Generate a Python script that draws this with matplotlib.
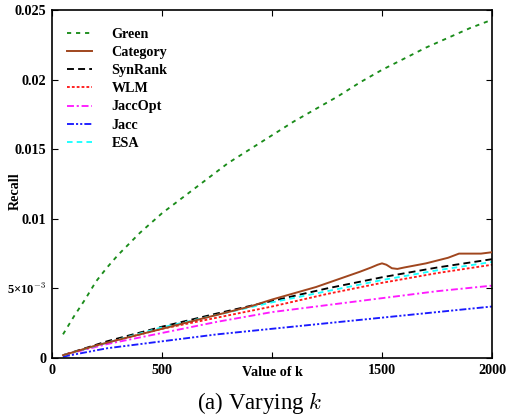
import matplotlib
matplotlib.use('Agg')
import matplotlib.pyplot as plt

plt.rcParams['font.family'] = ['Liberation Serif', 'DejaVu Serif']
plt.rcParams['mathtext.fontset'] = 'cm'
plt.rcParams['lines.scale_dashes'] = False

# values (k, recall)
k_green = [50, 100, 150, 200, 250, 300, 400, 500, 600, 700, 800, 900, 1000,
           1100, 1200, 1300, 1400, 1500, 1600, 1700, 1800, 1900, 2000]
green = [0.0017, 0.0030, 0.0042, 0.0055, 0.0065, 0.0074, 0.0090, 0.0104, 0.0116,
         0.0128, 0.0140, 0.0150, 0.0160, 0.0170, 0.0179, 0.0188, 0.0198, 0.0207,
         0.0215, 0.0223, 0.0230, 0.0237, 0.0243]

k_cat = [50, 200, 500, 900, 1000, 1200, 1400, 1450, 1480, 1500, 1520, 1545, 1570,
         1600, 1700, 1800, 1850, 1900, 1950, 2000]
category = [0.0002, 0.0009, 0.0021, 0.0037, 0.0042, 0.0051, 0.0062, 0.0065,
            0.0067, 0.0068, 0.0067, 0.00645, 0.0064, 0.0065, 0.0068, 0.0072,
            0.0075, 0.0075, 0.0075, 0.0076]

k_lin = [50, 250, 500, 750, 1000, 1250, 1500, 1750, 2000]
synrank = [0.0002, 0.0012, 0.00225, 0.0032, 0.0041, 0.0050, 0.0058, 0.0065, 0.0071]
esa = [0.0002, 0.0011, 0.0022, 0.0031, 0.0040, 0.0048, 0.0056, 0.0063, 0.0069]
wlm = [0.0002, 0.0011, 0.0021, 0.0029, 0.0037, 0.0046, 0.0054, 0.0061, 0.0067]
jaccopt = [0.0002, 0.0010, 0.0018, 0.0026, 0.0033, 0.0038, 0.0043, 0.0048, 0.0052]
jacc = [0.0001, 0.0007, 0.0012, 0.0017, 0.0021, 0.0025, 0.0029, 0.0033, 0.0037]

xticks = [0, 500, 1000, 1500, 2000]
xticklabels = ['0', '500', '', '1500', '2000']
yticks = [0, 0.005, 0.01, 0.015, 0.02, 0.025]
yticklabels = ['0', '5×10$^{-3}$', '0.01', '0.015', '0.02', '0.025']

fig = plt.figure(figsize=(5.09, 4.15), dpi=100)
ax = fig.add_axes([0.1022, 0.1373, 0.8644, 0.8386])

lw = 1.35
ax.plot(k_green, green, color='#1a8c1a', lw=lw, ls=(0, (3, 3.5)), label='Green')
ax.plot(k_cat, category, color='#a0461e', lw=1.4, ls='-', label='Category', zorder=3)
ax.plot(k_lin, synrank, color='black', lw=lw, ls=(0, (5, 3)), label='SynRank')
ax.plot(k_lin, wlm, color='#ff1a1a', lw=lw, ls=(0, (2, 1.5)), label='WLM')
ax.plot(k_lin, jaccopt, color='#ff1aff', lw=lw, ls=(0, (5, 2, 1.5, 2)), label='JaccOpt')
ax.plot(k_lin, jacc, color='#1a1aff', lw=lw, ls=(0, (5, 1.5, 1.5, 1.5, 1.5, 1.5)), label='Jacc')
ax.plot(k_lin, esa, color='#1affff', lw=lw, ls=(0, (4, 3)), label='ESA')

ax.set_xlim(0, 2000)
ax.set_ylim(0, 0.025)
ax.set_xticks(xticks)
ax.set_xticklabels(xticklabels)
ax.set_yticks(yticks)
ax.set_yticklabels(yticklabels)
ax.tick_params(direction='in', top=True, right=True, length=4, width=0.8,
               labelsize=10.2, pad=4)
for lab in ax.get_xticklabels() + ax.get_yticklabels():
    lab.set_fontweight('bold')
ax.get_yticklabels()[1].set_fontsize(9)
for s in ax.spines.values():
    s.set_linewidth(1.2)

ax.set_xlabel('Value of k', fontsize=10.2, fontweight='bold')
ax.xaxis.set_label_coords(0.5, -0.024)
ax.set_ylabel('Recall', fontsize=10.2, fontweight='bold')
ax.yaxis.set_label_coords(-0.068, 0.48)

leg = ax.legend(loc='upper left', bbox_to_anchor=(0.034, 0.948), frameon=False,
                borderpad=0, borderaxespad=0, handlelength=1.8, handletextpad=1.35,
                labelspacing=0.36, prop={'family': 'Liberation Serif', 'weight': 'bold', 'size': 10.2})

fig.text(0.511, 1 - 403 / 415, r'(a) Varying $k$', ha='center', va='center', fontsize=16.5)

fig.savefig('out.png', dpi=100)
